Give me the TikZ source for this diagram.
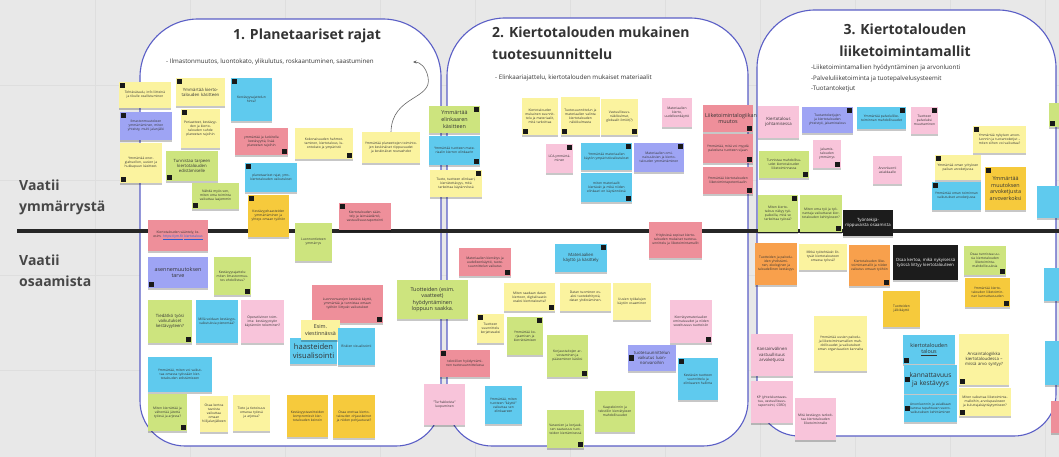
\documentclass[tikz,border=0pt]{standalone}
\usepackage{fontspec}
\setmainfont{Open Sans}
\usetikzlibrary{shadows,arrows.meta}

\definecolor{bgc}{HTML}{E8E8E8}
\definecolor{gridc}{HTML}{DEDEDE}
\definecolor{frame}{HTML}{5A5EC6}
\definecolor{ink}{HTML}{333333}
\definecolor{cyel}{HTML}{FBF39F}
\definecolor{cblue}{HTML}{5FCAEE}
\definecolor{cgreen}{HTML}{CDE47E}
\definecolor{cred}{HTML}{EE8F9A}
\definecolor{cpink}{HTML}{F8C4DA}
\definecolor{cviol}{HTML}{9EA4F4}
\definecolor{corng}{HTML}{F8A04C}
\definecolor{cgold}{HTML}{F6CA3C}
\definecolor{cblk}{HTML}{1C1C1C}
\definecolor{linkc}{HTML}{2F5FD0}

% text sizes for the notes
\newcommand\fsA{\fontsize{3.3}{4.0}\selectfont}
\newcommand\fsB{\fontsize{4.3}{5.2}\selectfont}
\newcommand\fsC{\fontsize{5.4}{6.6}\selectfont}
\newcommand\fsD{\fontsize{6.6}{8.0}\selectfont}
\newcommand\fsE{\fontsize{7.6}{9.2}\selectfont}

\tikzset{
  stickbox/.style={inner sep=1pt, align=center, text=ink, font=\fsA,
    drop shadow={shadow xshift=0.4pt, shadow yshift=-1.6pt, opacity=0.22, fill=black}},
  panel/.style={draw=frame, line width=1.1pt, fill=white},
  sqfill/.style={fill=black!90},
  heading/.style={font=\bfseries\fontsize{14}{22}\selectfont, text=ink, inner sep=0pt},
  rowlabel/.style={font=\bfseries\fontsize{14}{21}\selectfont, text=ink!90, align=left, inner sep=0pt, anchor=north west},
  subline/.style={font=\fontsize{6.2}{10.5}\selectfont, text=ink, inner sep=0pt, align=left},
  curvearrow/.style={draw=black!60, line width=0.6pt, -{Stealth[length=3.5pt,width=3pt]}},
}

% sticky note from its two corners: [options]{name}{x0}{y0}{x1}{y1}{colour}{text}
\newcommand\sticky[8][]{%
  \pgfmathsetmacro\stX{(#3+#5)/2}\pgfmathsetmacro\stY{(#4+#6)/2}%
  \pgfmathsetmacro\stW{#5-#3}\pgfmathsetmacro\stH{#6-#4}\pgfmathsetmacro\stT{#5-#3-4}%
  \node[stickbox, fill=#7, minimum width=\stW pt, minimum height=\stH pt, text width=\stT pt, #1] (#2) at (\stX,\stY) {#8};}
% small black author tags on a note corner
\newcommand\mkTL[1]{\fill[sqfill] ([shift={(1,1)}]#1.north west) rectangle ++(5.5,5.5);}
\newcommand\mkTR[1]{\fill[sqfill] ([shift={(-6.5,1)}]#1.north east) rectangle ++(5.5,5.5);}
\newcommand\mkBL[1]{\fill[sqfill] ([shift={(1,-6.5)}]#1.south west) rectangle ++(5.5,5.5);}
\newcommand\mkBR[1]{\fill[sqfill] ([shift={(-6.5,-6.5)}]#1.south east) rectangle ++(5.5,5.5);}
\newcommand\mkL[1]{\fill[sqfill] ([shift={(1,-2.75)}]#1.west) rectangle ++(5.5,5.5);}

\begin{document}
\begin{tikzpicture}[x=1pt,y=-1pt]
\useasboundingbox (0,0) rectangle (1059,457);
\fill[bgc] (0,0) rectangle (1059,457);
\foreach \gx in {95,190,...,1045} \draw[gridc, line width=0.5pt] (\gx,0) -- (\gx,457);
\foreach \gy in {85,180,275,370} \draw[gridc, line width=0.5pt] (0,\gy) -- (1059,\gy);

% three theme panels
\path[panel] (140,250) [rounded corners=58pt] -- (140,19) -- (441,19) -- (441,250)
  [rounded corners=45pt] -- (441,446) -- (140,446) -- cycle;
\path[panel] (447,250) [rounded corners=58pt] -- (447,18) -- (748,18) -- (748,250)
  [rounded corners=45pt] -- (748,446) -- (447,446) -- cycle;
\path[panel] (757,250) [rounded corners=58pt] -- (757,10) -- (1056,10) -- (1056,250)
  [rounded corners=42pt] -- (1056,436) -- (757,436) -- cycle;

% divider between the two rows
\draw[line width=4pt, color=black!85] (17,230.5) -- (1059,230.5);

% row labels
\node[rowlabel] (rowA) at (19,180) {Vaatii\\ymmärrystä};
\node[rowlabel] (rowB) at (19,255) {Vaatii\\osaamista};

% panel titles
\node[heading] (t1) at (307,36) {1. Planetaariset rajat};
\node[heading, align=left, anchor=north west] (t2) at (492,27) {2. Kiertotalouden mukainen\\tuotesuunnittelu};
\node[heading, align=center] (t3) at (905,40) {3. Kiertotalouden\\liiketoimintamallit};
\node[subline, anchor=west] (s1) at (166,62) {- Ilmastonmuutos, luontokato, ylikulutus, roskaantuminen, saastuminen};
\node[subline, anchor=west] (s2) at (495,78) {- Elinkaariajattelu, kiertotalouden mukaiset materiaalit};
\node[subline, anchor=north west] (s3) at (811,65) {-Liiketoimintamallien hyödyntäminen ja arvonluonti\\-Palveluliiketoiminta ja tuotepalvelusysteemit\\-Tuotantoketjut};

% ---------- panel 1 ----------
\sticky{n1}{119}{82}{171}{108}{cyel}{Tehtävätaulu, info liitteinä ja tikulle osallistuminen}\mkTL{n1}
\sticky{n2}{120}{112}{172}{140}{cviol}{Ilmastonmuutoksen ymmärtäminen, miten yhteisty, multi jalanjälki}\mkTL{n2}
\sticky{n3}{120}{143}{162}{183}{cyel}{Ymmärtää energiahuollon, uusien ja hukkapuun käsitteet.}\mkBL{n3}
\sticky[font=\fsB]{n4}{176}{78}{225}{106}{cyel}{Ymmärtää kiertotalouden käsitteen}\mkTL{n4}
\sticky{n5}{181}{109}{220}{148}{cyel}{Periaatteet, kestävyyden ja kiertotalouden suhde planeetan rajoihin}\mkTL{n5}
\sticky[font=\fsB]{n6}{166}{151}{218}{181}{cgreen}{Tunnistaa tarpeen kiertotalouden edistämiselle}\mkBL{n6}
\sticky{n7}{192}{183}{239}{209}{cgreen}{Nähdä myös sen, miten oma toiminta vaikuttaa laajemmin}\mkBL{n7}
\sticky{n8}{231}{78}{272}{121}{cblue}{Kestävyysajattelun hinta?}\mkTL{n8}
\sticky{n9}{235}{128}{288}{155}{cred}{ymmärtää ja luokitella kestävyyttä, lisää planeetan rajoihin}\mkBR{n9}
\sticky{n10}{245}{163}{297}{192}{cblue}{planetaariset rajat, yms. kiertotalouden vaikutukset}\mkTL{n10}
\sticky{n11}{248}{195}{289}{237}{cgold}{Kestävyys\-haasteiden ymmärtäminen ja yhteys omaan työhön}\mkTL{n11}
\sticky{n12}{295}{128}{353}{159}{cyel}{Kokonaisuuden hahmottaminen, kiertotalous, luontokato ja ympäristö}\mkBR{n12}
\sticky{n13}{362}{132}{420}{163}{cyel}{Ymmärtää planeettojen toimintojen keskinäiset riippuvuudet ja keskinäiset reunaehdot}
\sticky{n14}{148}{220}{208}{251}{cred}{Kiertotalouden sääntely, ks. esim. \textcolor{linkc}{\underline{https://ym.fi/}} \textcolor{linkc}{\underline{kiertotalous}}}
\sticky{n15}{339}{203}{391}{230}{cred}{Kiertotalouden sääntely ja lainsäädäntö, vastuullisuus\-raportointi}\mkTL{n15}
\sticky{n16}{295}{223}{332}{261}{cgreen}{Luonnontieteen ymmärrys}
\sticky[font=\fsC]{n17}{148}{257}{208}{288}{cviol}{asennemuutoksen tarve}\mkBL{n17}
\sticky{n18}{214}{257}{251}{295}{cgreen}{Kestävyysajattelu: miten ilmastonmuutos ehdollistuu?}\mkBR{n18}
\sticky[font=\fsB]{n19}{148}{300}{192}{343}{cgreen}{Tiedätkö työsi vaikutukset kestävyyteen?}\mkBR{n19}
\sticky{n20}{196}{300}{238}{343}{cblue}{Millä voidaan kestävyys\-vaikutuksia pienentää?}
\sticky{n21}{241}{300}{284}{343}{cpink}{Operatiivinen toiminta: kestävyystyön käytännön tekeminen?}
\sticky{n22}{312}{285}{383}{323}{cred}{Luonnonvarojen kestävä käyttö, ymmärtää ja tunnistaa omaan työhön liittyvät vaikutukset}\mkBR{n22}
\sticky[font=\fsE, inner sep=0pt, text width=46pt]{n24}{290}{338}{337}{364}{cblue}{haasteiden\\visualisointi}
\sticky[font=\fsC]{n23}{301}{320}{340}{340}{cyel}{Esim. viestinnässä}
\sticky{n25}{338}{328}{375}{365}{cblue}{Riskien visualisointi}
\sticky{n26}{148}{357}{212}{392}{cblue}{Ymmärtää, miten voi vaikuttaa omassa työssään kiertotalouden edistämiseen}
\sticky{n27}{148}{394}{187}{431}{cgreen}{Miten kierrättää ja vähentää jätettä työssä ja arjessa?}\mkBR{n27}
\sticky{n28}{200}{396}{228}{432}{cyel}{Osaa kertoa tavoista vaikuttaa omaan hiilijalan\-jälkeen}
\sticky{n29}{233}{395}{270}{431}{cyel}{Tieto ja tietoisuus omassa työssä ja arjessa?}
\sticky{n30}{287}{395}{328}{437}{cgold}{Kestävyys\-tavoitteiden kompromissit kiertotalouden keinoin}
\sticky{n31}{333}{395}{375}{438}{cgold}{Osaa erottaa kiertotalouden ohjauskeinot ja niiden pohjautuvat?}

% curved pointer from n13 to the panel subtitle
\coordinate (ahead) at (413,62);
\draw[curvearrow] (n13.north) .. controls (392,95) and (433,100) .. (428,77) .. controls (426,67) and (420,62) .. (ahead);

% ---------- between panels 1 and 2 ----------
\sticky[font=\fsC]{n32}{429}{106}{480}{133}{cgreen}{Ymmärtää elinkaaren käsitteen}\mkTR{n32}
\sticky{n33}{429}{136}{480}{165}{cblue}{Ymmärtää tuotteen materiaalin kierron elinkaarin}\mkBR{n33}
\sticky{n34}{430}{170}{482}{197}{cyel}{Tuote, tuotteen elinkaari, kierrätettävyys, mitä tarkoittaa käytännössä}\mkTR{n34}
\sticky[font=\fsC]{n35}{397}{280}{468}{319}{cgreen}{Tuotteiden (esim.\\vaatteet)\\hyödyntäminen\\loppuun saakka.}
\sticky{n36}{440}{350}{490}{377}{cred}{tekstiilien hyödyntäminen tuotesuunnittelussa}\mkTL{n36}
\sticky{n37}{424}{384}{465}{425}{cpink}{”Turhakkeista” luopuminen}

% ---------- panel 2 ----------
\sticky{n38}{522}{98}{558}{135}{cyel}{Kiertotalouden mukainen suunnittelu ja materiaalit, mitä tarkoittaa}\mkBL{n38}
\sticky{n39}{561}{97}{600}{135}{cyel}{Tuotesuunnittelun ja materiaalien valinta kiertotalouden näkökulmasta}\mkBL{n39}
\sticky{n40}{601}{99}{638}{135}{cyel}{Vastuullisuus\-näkökulmat, globaalit ilmiöt(?)}\mkBR{n40}
\sticky{n41}{662}{98}{692}{127}{cpink}{Materiaalien kierto, uudelleen\-käyttö}
\sticky{n42}{546}{144}{573}{173}{cpink}{LCA-ymmärtä\-minen}\mkTR{n42}
\sticky{n43}{581}{143}{632}{170}{cblue}{Ymmärtää materiaalien käytön ympäristövaikutukset}\mkTR{n43}
\sticky{n44}{634}{143}{684}{172}{cviol}{Materiaalien ominaisuuksien ja kiertotalouden ymmärtäminen}\mkTR{n44}
\sticky{n45}{581}{173}{632}{202}{cblue}{miten materiaalit kiertävät ja mikä niiden elinkaari on käytännössä}\mkBR{n45}
\sticky[font=\fsC]{n46}{703}{105}{753}{132}{cred}{Liiketoimintalogiikan muutos}\mkBR{n46}
\sticky{n47}{703}{134}{753}{163}{cred}{Ymmärtää, mitä voi myydä palveluna tuotteen sijaan}\mkBR{n47}
\sticky{n48}{703}{167}{753}{194}{cred}{Ymmärtää kiertotalouden liiketoiminta\-potentiaalin}\mkBR{n48}
\sticky{n49}{649}{222}{702}{258}{cred}{Yrityksissä sopivat kiertotalouden mukaiset tuotesuunnittelu ja liiketoimintamallit}
\sticky[font=\fsB]{n50}{555}{244}{607}{272}{cblue}{Materiaalien käyttö ja käsittely}\mkTR{n50}
\sticky{n51}{504}{283}{555}{311}{cyel}{Miten saadaan datan kiertoon, digitalisaatio osaksi kiertotaloutta?}\mkBR{n51}
\sticky{n52}{560}{283}{611}{311}{cyel}{Datan tuominen osaksi tuotekehitystä, datan yhdistäminen.}
\sticky{n53}{613}{283}{651}{320}{cyel}{Uusien työkalujen käytön osaaminen}
\sticky{n54}{670}{300}{712}{343}{cpink}{Kierrätysmateriaalien ominaisuudet ja niiden soveltuvuus tuotteisiin}\mkBR{n54}
\sticky{n55}{459}{248}{511}{276}{cred}{Materiaalien kierrätys ja uudelleenkäyttö, tuotesuunnittelun vaikutus}\mkBR{n55}
\sticky{n56}{477}{314}{504}{343}{cyel}{Tuotteen suunnittelu korjattavaksi}\mkTL{n56}
\sticky{n57}{507}{317}{543}{355}{cgreen}{Ymmärtää korjaamisen ja kierrättämisen}\mkTR{n57}
\sticky{n58}{547}{335}{588}{377}{cgreen}{Korjaustaitojen arvostaminen ja pääseminen käsiksi}\mkBR{n58}
\sticky[font=\fsB]{n59}{628}{345}{676}{371}{cviol}{tuotesuunnittelun vaikutus luonnonvaroihin}\mkL{n59}
\sticky{n60}{678}{358}{718}{400}{cblue}{Kestävän tuotteen suunnittelu ja elinkaaren hallinta}\mkTL{n60}
\sticky{n61}{485}{386}{522}{424}{cblue}{Ymmärtää, miten tuotteen ”käyttö” vaikuttaa sen elinkaareen}
\sticky{n62}{595}{391}{635}{432}{cgreen}{Kaapeloinnin ja tekstiilin kierrätyksen mahdollisuudet}
\sticky{n63}{547}{410}{584}{448}{cgreen}{Varaosien ja korjauksen saatavuus tuotteiden kiertämisessä}\mkBR{n63}

% ---------- panel 3 ----------
\sticky[font=\fsB]{n64}{758}{106}{799}{138}{cpink}{Kiertotalous johtamisessa}
\sticky{n65}{802}{107}{853}{133}{cviol}{Tuotantoketjujen ja kiertotalouden yhteistyö, jakamistalous}\mkTR{n65}
\sticky{n66}{857}{107}{906}{129}{cblue}{Ymmärtää palveluliiketoiminnan mahdollisuudet}\mkTR{n66}
\sticky{n67}{911}{107}{938}{134}{cpink}{Tuotteen palveluksi muuttaminen}\mkTR{n67}
\sticky{n68}{813}{140}{841}{168}{cpink}{Jakamis\-talouden ymmärrys}\mkBR{n68}
\sticky{n69}{759}{151}{809}{178}{cgreen}{Tunnistaa mahdollisuudet kiertotalouden liiketoiminnassa}\mkBR{n69}
\sticky{n70}{873}{156}{902}{184}{cpink}{Arvonluonti asiakkaalle}
\sticky{n71}{973}{126}{1026}{153}{cyel}{Ymmärtää nykyisen arvonluonnin ja tuotantoketjut -- miten siihen voi vaikuttaa?}\mkTL{n71}
\sticky{n72}{935}{155}{981}{180}{cyel}{Ymmärtää oman yrityksen paikan arvoketjussa}\mkTL{n72}
\sticky[font=\fsC]{n73}{985}{167}{1026}{210}{cgold}{Ymmärtää muutoksen arvoketjusta arvoverkoksi}\mkTL{n73}
\sticky{n74}{932}{182}{981}{210}{cblue}{Ymmärtää oman toiminnan vaikutukset arvoketjussa}\mkTL{n74}
\sticky{n75}{1049}{103}{1062}{127}{cgreen}{}\mkBL{n75}
\sticky{n76}{1037}{186}{1062}{218}{cblue}{}
\sticky{n77}{758}{195}{798}{232}{cgreen}{Miten kiertotalous näkyy työpaikoilla, mitä se tarkoittaa työssä?}\mkTR{n77}
\sticky{n78}{800}{195}{842}{232}{cgreen}{Miten oma työ ja työnantaja vaikuttavat kiertotalouden kehitykseen?}\mkBR{n78}
\sticky[font=\fsB, text=white]{n79}{843}{210}{893}{236}{cblk}{Työntekijä\-riippuvaista osaamista}
\sticky{n80}{755}{243}{797}{285}{corng}{Tuotteiden ja palveluiden yhdistäminen, ekologinen ja taloudellinen kestävyys}
\sticky{n81}{799}{244}{847}{270}{cyel}{Mitkä työtehtävät liittyvät kiertotalouteen omassa työssä?}
\sticky{n82}{849}{245}{890}{286}{corng}{Kiertotalouden liiketoimintamallit ja niiden vaikutus omaan työhön}\mkBR{n82}
\sticky[font=\fsB, text=white]{n83}{893}{245}{958}{280}{cblk}{Osaa kertoa, mikä nykyisessä työssä liittyy kiertotalouteen}
\sticky{n84}{883}{291}{920}{327}{cgold}{Tuotteiden jälkikäyttö}
\sticky{n85}{964}{246}{1006}{275}{cgreen}{Osaa tunnistaa uusia kiertotalouden liiketoiminta\-mahdollisuuksia}\mkBR{n85}
\sticky{n86}{965}{278}{1010}{307}{cgold}{Ymmärtää kiertotalouden liiketoiminnan kannattavuuden}\mkBR{n86}
\sticky{n87}{814}{316}{867}{371}{cyel}{Ymmärtää uusien palvelu- ja liiketoimintamallien mahdollisuudet ja vaikutukset oman organisaation kannalta}
\sticky[font=\fsB]{n88}{751}{334}{793}{376}{cpink}{Kansainvälinen vastuullisuus arvoketjussa}
\sticky{n89}{751}{381}{793}{423}{cpink}{KP (yhteiskuntavastuu, vastuullisuus\-raportointi, CSRD)}
\sticky{n90}{795}{398}{836}{440}{cpink}{Mitä kestävyys tarkoittaa kiertotalouden liiketoiminnalle}
\sticky[font=\fsC]{n91}{903}{335}{955}{364}{cblue}{kiertotalouden \underline{talous}}\mkBL{n91}
\sticky[font=\fsD]{n92}{904}{365}{957}{394}{cblue}{kannattavuus ja kestävyys}\mkL{n92}
\sticky{n93}{904}{395}{957}{422}{cblue}{Arvonluonnin ja asiakkaan kanssa tapahtuvan vuoro\-vaikutuksen kehittäminen}\mkL{n93}
\sticky[font=\fsB]{n94}{959}{334}{1009}{385}{cyel}{Ansaintalogiikka kiertotaloudessa -- missä arvo syntyy?}\mkBL{n94}
\sticky{n95}{959}{388}{1011}{416}{cyel}{Miten vaikuttaa liiketoimintamalleihin, arvolupaukseen ja kuluttajakäyttäytymiseen?}\mkBL{n95}
\sticky{n96}{1045}{341}{1062}{385}{cblue}{}
\sticky{n97}{1044}{268}{1062}{301}{cblue}{}
\sticky{n98}{1051}{401}{1062}{433}{cred}{}
\end{tikzpicture}
\end{document}
